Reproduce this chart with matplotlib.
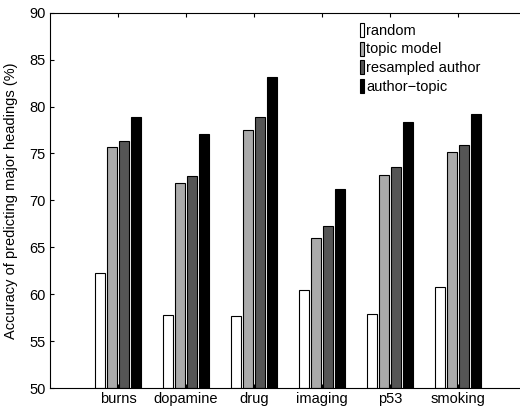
import matplotlib
matplotlib.use("Agg")
import matplotlib.pyplot as plt
import numpy as np

categories = ["burns", "dopamine", "drug", "imaging", "p53", "smoking"]
series_names = ["random", "topic model", "resampled author", "author\u2212topic"]
random_acc = [62.3, 57.8, 57.7, 60.4, 57.9, 60.8]
topic_acc = [75.7, 71.8, 77.5, 66.0, 72.7, 75.2]
resampled_acc = [76.3, 72.6, 78.9, 67.3, 73.6, 75.9]
author_topic_acc = [78.9, 77.1, 83.1, 71.2, 78.4, 79.2]
colors = ["white", "#aaaaaa", "#555555", "black"]

plt.rcParams["font.family"] = ["Liberation Sans", "DejaVu Sans"]
plt.rcParams["font.size"] = 10.5

fig = plt.figure(figsize=(5.2, 4.07), dpi=100)
ax = fig.add_axes([50 / 520, 19 / 407, 476 / 520, 375.3 / 407])

x = np.arange(1, len(categories) + 1)
slot = 0.18
width = 0.15
all_series = [random_acc, topic_acc, resampled_acc, author_topic_acc]
for i, (vals, name, col) in enumerate(zip(all_series, series_names, colors)):
    off = (i - 1.5) * slot
    ax.bar(x + off, np.array(vals) - 50, width=width, bottom=50, color=col,
           edgecolor="black", linewidth=0.8, label=name)

ax.set_xlim(0, 7)
ax.set_ylim(50, 90)
ax.set_xticks(x)
ax.set_xticklabels(categories)
ax.set_yticks(np.arange(50, 91, 5))
# the right edge of the axes is cut off in the original
ax.spines["right"].set_visible(False)
ax.tick_params(direction="in", length=3, top=True, right=False, pad=3)
ax.set_ylabel("Accuracy of predicting major headings (%)")
ax.yaxis.set_label_coords(-0.068, 0.5)

ax.legend(loc="upper left", bbox_to_anchor=(0.63, 1.0), frameon=False,
          handlelength=0.25, handleheight=1.1, handletextpad=0.15,
          labelspacing=0.25, borderaxespad=0.3)

fig.savefig("out.png", dpi=100)
